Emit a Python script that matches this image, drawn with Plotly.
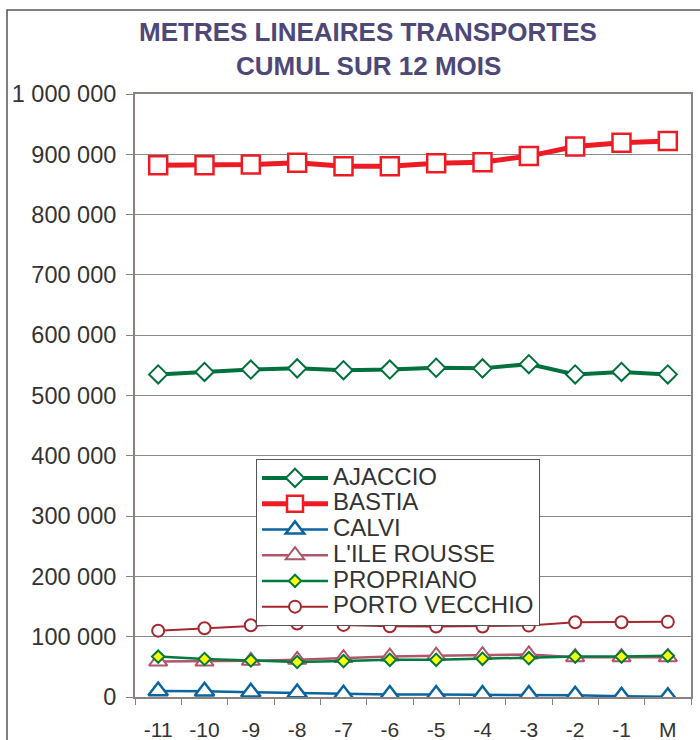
import plotly.graph_objects as go

months = ["-11", "-10", "-9", "-8", "-7", "-6", "-5", "-4", "-3", "-2", "-1", "M"]

ajaccio = [535000, 539000, 543000, 545000, 542000, 543000, 546000, 545000, 552000, 535000, 539000, 535000]
bastia = [882000, 882000, 883000, 886000, 880000, 880000, 885000, 887000, 897000, 913000, 919000, 922000]
calvi = [10000, 9600, 7900, 6700, 4500, 4000, 4000, 4000, 4000, 2900, 1200, 500]
ile_rousse = [58800, 58800, 60000, 61700, 64500, 67000, 68400, 69500, 70600, 66000, 66000, 66000]
propriano = [67000, 63000, 60500, 58000, 59500, 61700, 61700, 63300, 64500, 67000, 67000, 68400]
porto_vecchio = [110000, 113900, 119000, 121800, 119600, 117300, 116800, 117000, 118400, 124000, 124000, 124600]

series = [
    ("AJACCIO", ajaccio, "#00703c", 4, "diamond", 14, "white", 2),
    ("BASTIA", bastia, "#ed1c24", 5, "square", 18, "white", 2.5),
    ("CALVI", calvi, "#0b64a0", 2.5, "triangle-up", 17, "white", 2.5),
    ("L'ILE ROUSSE", ile_rousse, "#b0566a", 2.5, "triangle-up", 16, "white", 2),
    ("PROPRIANO", propriano, "#007a3d", 2.5, "diamond", 9.5, "#ffff00", 2),
    ("PORTO VECCHIO", porto_vecchio, "#a5282e", 2, "circle", 12, "white", 2),
]

fig = go.Figure()
for name, vals, color, lw, sym, ms, fill, mlw in series:
    fig.add_trace(go.Scatter(
        x=months, y=vals,
        name="<span style='font-size:24px'>%s</span>" % name,
        mode="lines+markers",
        line=dict(color=color, width=lw),
        marker=dict(symbol=sym, size=ms, color=fill, line=dict(color=color, width=mlw)),
    ))

FONT = "Liberation Sans, Arial, sans-serif"
L, R, T, B = 135, 9, 94, 43
PW, PH = 700 - L - R, 740 - T - B

fig.update_layout(
    width=700, height=740,
    margin=dict(l=L, r=R, t=T, b=B, autoexpand=False),
    paper_bgcolor="white", plot_bgcolor="white",
    separators=". ",
    font=dict(family=FONT, size=22, color="#333333"),
    showlegend=True,
    legend=dict(
        x=(256 - L) / PW, y=(740 - B - 459) / PH, xanchor="left", yanchor="top",
        bgcolor="white", bordercolor="#555555", borderwidth=1,
        font=dict(family=FONT, size=17.5, color="#333333"),
        itemwidth=66, tracegroupgap=0,
    ),
)

fig.update_xaxes(
    type="category", range=[-0.5, 11.5], automargin=False,
    showline=True, linecolor="#8c8280", linewidth=2, mirror=True,
    ticks="outside", tickson="boundaries", ticklen=6, tickcolor="#8c8280",
    showgrid=False, ticklabelstandoff=13,
    tickfont=dict(family=FONT, size=21, color="#333333"),
)
fig.update_yaxes(
    range=[0, 1000000], dtick=100000, tickformat=",d", automargin=False,
    showline=True, linecolor="#8c8280", linewidth=2, mirror=True,
    ticks="outside", ticklen=7, tickcolor="#8c8280",
    showgrid=True, gridcolor="#8a8a8a", gridwidth=1,
    zeroline=False, ticklabelstandoff=5,
    tickfont=dict(family=FONT, size=23.5, color="#333333"),
)

# outer chart frame
fig.add_shape(type="rect", xref="paper", yref="paper",
              x0=(7 - L) / PW, x1=(760 - L) / PW,
              y0=(740 - B - 800) / PH, y1=(740 - B - 10) / PH,
              line=dict(color="#555555", width=1.5), fillcolor="rgba(0,0,0,0)", layer="below")

title_lines = ["METRES LINEAIRES TRANSPORTES", "CUMUL SUR 12 MOIS"]
title_y = [31.7, 65.5]
for txt, ty in zip(title_lines, title_y):
    fig.add_annotation(
        text="<b>%s</b>" % txt, xref="paper", yref="paper",
        x=(368 - L) / PW, y=(740 - B - ty) / PH,
        xanchor="center", yanchor="middle", showarrow=False,
        font=dict(family=FONT, size=26, color="#4d4878"),
    )

fig.write_html(
    "out.html",
    config={"displayModeBar": False},
    post_script="document.body.style.margin='0';document.body.style.padding='0';",
)
